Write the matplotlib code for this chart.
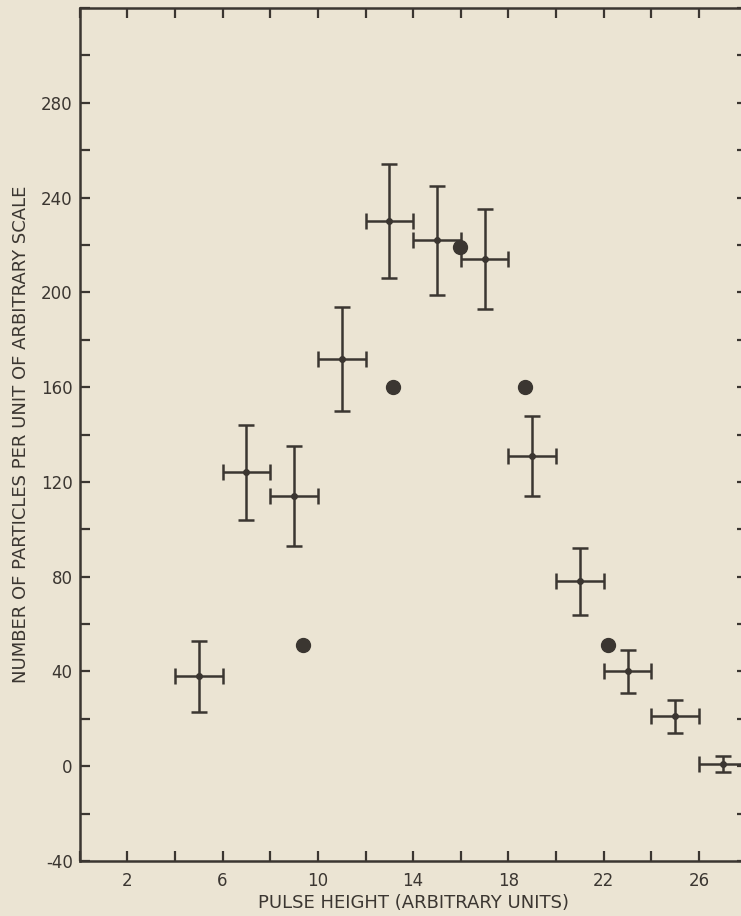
import matplotlib.pyplot as plt
import numpy as np

# measured points with errors
pulse = [5, 7, 9, 11, 13, 15, 17, 19, 21, 23, 25, 27]
counts = [38, 124, 114, 172, 230, 222, 214, 131, 78, 40, 21, 1]
count_err = [15, 20, 21, 22, 24, 23, 21, 17, 14, 9, 7, 3.5]
pulse_err = [1, 1, 1, 1, 1, 1, 1, 1, 1, 1, 1, 1]

# calculated points
calc_x = [9.36, 13.17, 15.96, 18.69, 22.19]
calc_y = [51, 160, 219, 160, 51]

ink = '#3b3631'
paper = '#ebe4d3'

fig = plt.figure(figsize=(7.41, 9.16), dpi=100, facecolor=paper)
ax = fig.add_axes([0.1074, 0.060, 0.9004, 0.9313], facecolor=paper)

ax.errorbar(pulse, counts, yerr=count_err, xerr=pulse_err, fmt='o', color=ink,
            ms=4, elinewidth=1.8, capsize=5.5, capthick=1.8, zorder=3)
ax.plot(calc_x, calc_y, 'o', color=ink, ms=10, zorder=4)

ax.set_xlim(0, 28)
ax.set_ylim(-40, 320)

ax.set_xticks(np.arange(0, 29, 2))
ax.set_xticklabels(['' if (t - 2) % 4 else str(t) for t in range(0, 29, 2)])
ax.set_yticks(np.arange(-40, 321, 20))
ax.set_yticklabels([str(t) if t % 40 == 0 and t <= 280 else '' for t in range(-40, 321, 20)])

ax.tick_params(direction='in', length=7, width=1.6, color=ink, labelcolor=ink,
               labelsize=12, top=True, right=True)
ax.tick_params(axis='x', pad=8)
ax.tick_params(axis='y', pad=5)

for s in ax.spines.values():
    s.set_color(ink)
    s.set_linewidth(1.8)

ax.set_xlabel('PULSE HEIGHT (ARBITRARY UNITS)', fontsize=13, color=ink, labelpad=3)
ax.set_ylabel('NUMBER OF PARTICLES PER UNIT OF ARBITRARY SCALE', fontsize=13,
              color=ink, labelpad=8)

fig.savefig('out.png', dpi=100, facecolor=paper)
